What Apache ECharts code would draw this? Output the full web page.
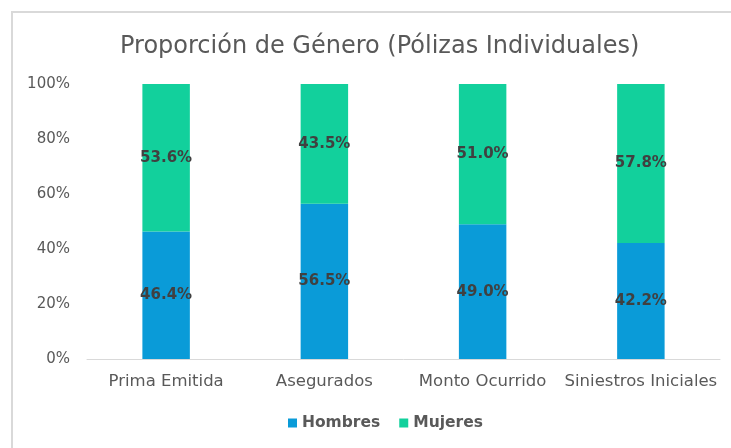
<!DOCTYPE html>
<html>
<head>
<meta charset="utf-8">
<script src="https://cdn.jsdelivr.net/npm/echarts@6/dist/echarts.min.js"></script>
<style>
  html, body { margin: 0; padding: 0; background: #fff; }
  #main { width: 731px; height: 448px; }
</style>
</head>
<body>
<div id="main"></div>
<script>
// categorias y valores (porcentajes)
var categorias = ['Prima Emitida', 'Asegurados', 'Monto Ocurrido', 'Siniestros Iniciales'];
var hombres = [46.4, 56.5, 49.0, 42.2];
var mujeres = [53.6, 43.5, 51.0, 57.8];
var ticksY = [0, 20, 40, 60, 80, 100];

var fuente = 'DejaVu Sans';
var grisTexto = '#595959';

var chart = echarts.init(document.getElementById('main'));

function etiqueta() {
  return {
    show: true,
    position: 'inside',
    formatter: function (p) { return p.value.toFixed(1) + '%'; },
    color: '#404040',
    fontFamily: fuente,
    fontWeight: 'bold',
    fontSize: 15
  };
}

chart.setOption({
  animation: false,
  title: {
    text: 'Proporción de Género (Pólizas Individuales)',
    left: 115,
    top: 30,
    textStyle: { color: grisTexto, fontFamily: fuente, fontWeight: 'normal', fontSize: 24 }
  },
  // marco del grafico
  graphic: [{
    type: 'rect',
    shape: { x: 12, y: 12, width: 730, height: 460 },
    style: { fill: 'none', stroke: '#d9d9d9', lineWidth: 2 },
    silent: true
  }],
  legend: {
    bottom: 12,
    left: 283,
    itemWidth: 9,
    itemHeight: 9,
    itemGap: 19,
    icon: 'rect',
    textStyle: { color: grisTexto, fontFamily: fuente, fontWeight: 'bold', fontSize: 15.5 },
    data: ['Hombres', 'Mujeres']
  },
  grid: { left: 87, right: 11, top: 84, bottom: 89 },
  xAxis: {
    type: 'category',
    data: categorias,
    axisLine: { lineStyle: { color: '#d9d9d9', width: 1 } },
    axisTick: { show: false },
    axisLabel: { color: grisTexto, fontFamily: fuente, fontSize: 16.5, margin: 14, interval: 0 }
  },
  yAxis: {
    type: 'value',
    min: ticksY[0],
    max: ticksY[ticksY.length - 1],
    interval: 20,
    splitLine: { show: false },
    axisLine: { show: false },
    axisTick: { show: false },
    axisLabel: {
      color: grisTexto, fontFamily: fuente, fontSize: 15, margin: 17,
      formatter: function (v) { return v + '%'; }
    }
  },
  series: [
    {
      name: 'Hombres',
      type: 'bar',
      stack: 'total',
      barWidth: '30%',
      itemStyle: { color: '#0a9bd8' },
      label: etiqueta(),
      data: hombres
    },
    {
      name: 'Mujeres',
      type: 'bar',
      stack: 'total',
      barWidth: '30%',
      itemStyle: { color: '#12d09c' },
      label: etiqueta(),
      data: mujeres
    }
  ]
});
</script>
</body>
</html>
